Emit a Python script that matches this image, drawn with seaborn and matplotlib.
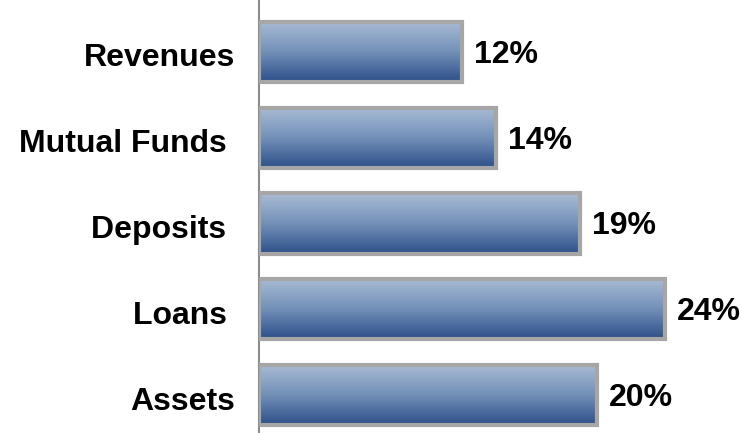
import numpy as np
import pandas as pd
import matplotlib
matplotlib.use("Agg")
import matplotlib.pyplot as plt
import matplotlib.transforms as mtransforms
from matplotlib.colors import LinearSegmentedColormap
import seaborn as sns

categories = ["Revenues", "Mutual Funds ", "Deposits ", "Loans ", "Assets"]
growth = [12, 14, 19, 24, 20]
value_labels = ["12%", "14%", "19%", "24%", "20%"]

df = pd.DataFrame({"category": categories, "growth": growth})

sns.set_style("white")
plt.rcParams["font.family"] = ["Liberation Sans", "DejaVu Sans"]
plt.rcParams["text.color"] = "black"
plt.rcParams["ytick.color"] = "black"
plt.rcParams["ytick.labelcolor"] = "black"

fig = plt.figure(figsize=(7.41, 4.33), dpi=100)
ax = fig.add_axes([259 / 741, 0, 1 - 259 / 741, 1])

sns.barplot(data=df, x="growth", y="category", orient="h", ax=ax,
            width=0.70, color="#5070a0", edgecolor="#a6a6a6", linewidth=2.8,
            zorder=2)

# vertical gradient fill clipped to each bar
cmap = LinearSegmentedColormap.from_list("bar", ["#aabcd5", "#7390b8", "#2c4f88"])
grad = np.linspace(0, 1, 256).reshape(-1, 1)
for patch in list(ax.patches):
    x0, y0 = patch.get_x(), patch.get_y()
    w, h = patch.get_width(), patch.get_height()
    im = ax.imshow(grad, cmap=cmap, aspect="auto",
                   extent=[x0, x0 + w, y0 + h, y0], origin="upper", zorder=2.5)
    im.set_clip_path(patch)
    # outline redrawn on top of the gradient
    border = plt.Rectangle((x0, y0), w, h, fill=False, edgecolor="#a6a6a6",
                           linewidth=3.0, zorder=3)
    ax.add_patch(border)

ax.set_xlim(0, 28.5)
ax.set_ylim(4.443, -0.606)

# small downward nudge for all text
nudge = mtransforms.ScaledTranslation(0, -3 / 100, fig.dpi_scale_trans)

for i, (v, lab) in enumerate(zip(growth, value_labels)):
    ax.text(v + 0.7, i, lab, va="center", ha="left", fontsize=23,
            fontweight="bold", color="black",
            transform=ax.transData + nudge)

ax.set_xlabel("")
ax.set_ylabel("")
ax.set_xticks([])
ax.set_yticks(range(len(categories)))
ax.set_yticklabels(categories, fontsize=23, fontweight="bold", color="black")
ax.tick_params(axis="y", length=0, pad=17)
for t in ax.get_yticklabels():
    t.set_transform(t.get_transform() + nudge)

for side in ["top", "right", "bottom"]:
    ax.spines[side].set_visible(False)
ax.spines["left"].set_color("#8c8c8c")
ax.spines["left"].set_linewidth(1.5)

fig.savefig("out.png", dpi=100)
